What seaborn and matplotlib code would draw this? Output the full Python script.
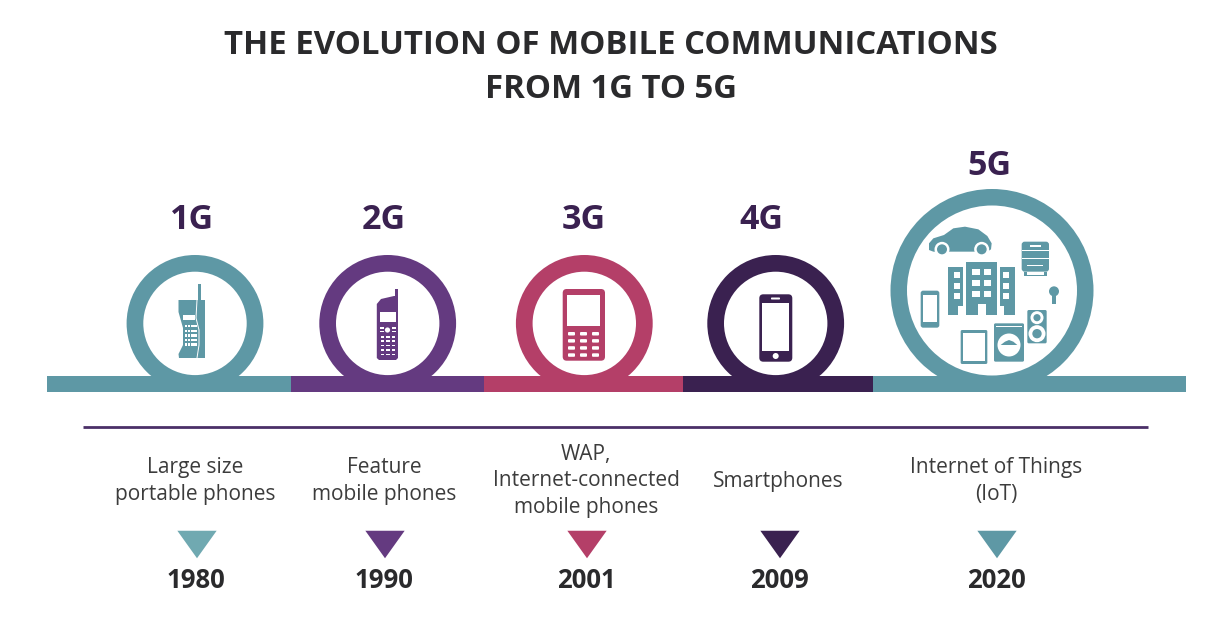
#Evolution of mobile communications infographic
import pandas as pd
import numpy as np
import matplotlib
matplotlib.use("Agg")
import matplotlib.pyplot as plt
from matplotlib.patches import Circle, Rectangle, Polygon, FancyBboxPatch
import seaborn as sns

# the values
generations = ["1G", "2G", "3G", "4G", "5G"]
technologies = ["Large size\nportable phones", "Feature\nmobile phones",
                "WAP,\nInternet-connected\nmobile phones", "Smartphones",
                "Internet of Things\n(IoT)"]
years = ["1980", "1990", "2001", "2009", "2020"]
title_lines = ["THE EVOLUTION OF MOBILE COMMUNICATIONS", "FROM 1G TO 5G"]

# styles and layout (in pixels of the picture)
colors = ["#5E98A5", "#643A80", "#B43F68", "#3A2150", "#5E98A5"]
tri_colors = ["#70A9B1", "#643A80", "#B43F68", "#3A2150", "#5E98A5"]
band_edges = [47, 291, 484, 683, 873, 1186]
ring_x = [195, 387.7, 584.3, 775.7, 992]
ring_y = [323.4, 323.4, 323.4, 323.4, 290.5]
ring_out = [68.4, 68.4, 68.4, 68.4, 101.5]
ring_in = [51.7, 51.7, 51.7, 51.7, 85]
label_x = [192, 384, 584, 761, 989]
label_y = [220, 220, 220, 220, 166]
text_x = [195, 384, 586, 778, 996]
text_y = [481, 481, 481, 481, 481]
tri_x = [197, 385, 587, 780, 997]
WHITE = "white"

sns.set_theme(style="white")
plt.rcParams['font.family'] = ['Open Sans', 'DejaVu Sans']

fig, ax = plt.subplots(figsize=(12.2, 6.36), dpi=100)
fig.subplots_adjust(0, 0, 1, 1)
ax.set_xlim(0, 1220)
ax.set_ylim(636, 0)
ax.axis("off")


def rect(x0, y0, x1, y1, c, z=5):
    ax.add_patch(Rectangle((x0, y0), x1 - x0, y1 - y0, fc=c, ec="none", zorder=z))


def rrect(x0, y0, x1, y1, c, r=2, z=5):
    ax.add_patch(FancyBboxPatch((x0 + r, y0 + r), x1 - x0 - 2 * r, y1 - y0 - 2 * r,
                                boxstyle="round,pad=%f,rounding_size=%f" % (r, r),
                                fc=c, ec="none", zorder=z))


def circ(x, y, r, c, z=5):
    ax.add_patch(Circle((x, y), r, fc=c, ec="none", zorder=z))


# rings and band
for x, y, ro, ri, c in zip(ring_x, ring_y, ring_out, ring_in, colors):
    circ(x, y, ro, c, z=2)
    circ(x, y, ri, WHITE, z=2.5)
for i, c in enumerate(colors):
    rect(band_edges[i], 375.7, band_edges[i + 1], 392.3, c, z=3)

# 1G brick phone
c = colors[0]
rect(198.3, 284, 200.6, 301, c)
ax.add_patch(Polygon([(178.5, 300), (205, 300), (205, 358), (179, 358), (178.5, 354),
                      (183, 345), (183, 328), (178.5, 312)], fc=c, ec="none", zorder=5))
ax.plot([197, 196, 199, 199, 197], [300, 318, 330, 345, 358], color=WHITE, lw=0.7, zorder=6)
rect(183, 315, 194.5, 320, WHITE, z=6)
for row in range(5):
    for col in range(4):
        rect(184.8 + col * 3.1, 325 + row * 4.6, 187.3 + col * 3.1, 327.3 + row * 4.6, WHITE, z=6)

# 2G feature phone
c = colors[1]
rect(394.8, 289, 397.8, 305, c)
ax.add_patch(Polygon([(376.8, 304), (381, 299), (394, 296), (398, 296), (398, 358),
                      (396, 360), (379, 360), (376.8, 358)], fc=c, ec="none", zorder=5))
rect(379.5, 312, 395.5, 322, WHITE, z=6)
circ(387.5, 330, 2.6, WHITE, z=6)
for sx in (380, 392):
    for sy in (327, 330.5):
        rect(sx, sy, sx + 4, sy + 1.5, WHITE, z=6)
for row in range(5):
    for col in (380.5, 386, 391.5):
        rect(col, 336 + row * 4.4, col + 3.5, 337.6 + row * 4.4, WHITE, z=6)

# 3G keypad phone
c = colors[2]
rrect(562.7, 289, 605, 360.7, c, r=4)
rect(567.3, 295, 600, 326, WHITE, z=6)
for row in range(4):
    for col in range(3):
        rrect(568 + col * 12, 332 + row * 7.1, 575 + col * 12, 335.5 + row * 7.1, WHITE, r=1, z=6)

# 4G smartphone
c = colors[3]
rrect(759.3, 294.3, 792.3, 361.7, c, r=4)
rect(762, 302.5, 789.3, 351, WHITE, z=6)
rrect(771, 297.5, 780, 299.5, WHITE, r=0.8, z=6)
circ(775.7, 356, 3, WHITE, z=6)

# 5G things, the icons are taken off the crop so pixel = 870 + x/3, 150 + y/3
c = colors[4]


def px(x):
    return 870 + x / 3


def py(y):
    return 150 + y / 3


def rz(x0, y0, x1, y1, col=c, r=None, z=5):
    if r is None:
        rect(px(x0), py(y0), px(x1), py(y1), col, z=z)
    else:
        rrect(px(x0), py(y0), px(x1), py(y1), col, r=r, z=z)


car = [(177, 300), (177, 280), (190, 265), (222, 255), (250, 235), (285, 230), (325, 238),
       (352, 258), (365, 280), (363, 298), (352, 305), (190, 305)]
ax.add_patch(Polygon([(px(a), py(b)) for a, b in car], fc=c, ec="none", zorder=5))
for wx in (216, 335):
    circ(px(wx), py(298), 7.5, WHITE, z=6)
    circ(px(wx), py(298), 5, c, z=7)
# train
rz(455, 275, 537, 365, r=3)
rz(455, 300, 537, 304, WHITE, z=6)
rz(455, 324, 537, 328, WHITE, z=6)
rz(480, 285, 512, 291, WHITE, z=6)
rz(470, 345, 520, 349, WHITE, z=6)
rz(462, 365, 530, 378)
rz(470, 365, 522, 374, WHITE, z=6)
# building
rz(235, 350, 280, 495)
rz(289, 335, 381, 495)
rz(390, 350, 435, 495)
rz(265, 468, 280, 495, WHITE, z=6)
rz(323, 462, 347, 495, WHITE, z=6)
rz(390, 468, 403, 495, WHITE, z=6)
for wy in (375, 407, 438):
    rz(252, wy - 8, 271, wy + 9, WHITE, z=6)
    rz(399, wy - 8, 418, wy + 9, WHITE, z=6)
for wy in (365, 399, 432):
    rz(307, wy - 9, 329, wy + 10, WHITE, z=6)
    rz(341, wy - 9, 363, wy + 10, WHITE, z=6)
# small phone
rz(152, 422, 208, 533, r=2.5)
rz(158, 436, 202, 516, WHITE, z=6)
# tablet
rz(272, 540, 352, 642, r=1.5)
rz(279, 548, 346, 632, WHITE, z=6)
# washing machine
rz(372, 520, 462, 635, r=1.5)
circ(px(417), py(585), 11.5, WHITE, z=6)
ax.add_patch(Polygon([(px(392), py(585)), (px(405), py(575)), (px(417), py(570)),
                      (px(430), py(575)), (px(442), py(585))],
                     fc=c, ec="none", zorder=7))
rz(378, 528, 456, 531, WHITE, z=6)
# speaker
rz(472, 480, 530, 580, r=1.5)
for sy, sr in ((503, 6.5), (551, 8.5)):
    circ(px(501), py(sy), sr, WHITE, z=6)
    circ(px(501), py(sy), sr * 0.55, c, z=7)
# bulb
circ(px(552), py(424), 5, c)
rz(546, 432, 558, 463)

# divider
ax.plot([83, 1148], [427, 427], color="#4B3068", lw=2, solid_capstyle="butt")

# triangles
df = pd.DataFrame({"generation": generations, "x": tri_x, "y": [544.5] * 5})
sns.scatterplot(data=df, x="x", y="y", hue="generation", palette=tri_colors, legend=False,
                marker=[(-1, 0.7), (1, 0.7), (0, -0.7)], s=800, linewidth=0, ax=ax)
ax.set_xlabel("")
ax.set_ylabel("")

# texts
for k, line in enumerate(title_lines):
    ax.text(611, 46 + k * 44, line, ha="center", va="center", fontsize=23.7,
            fontweight="bold", color="#2A2A2C")
for x, y, g in zip(label_x, label_y, generations):
    ax.text(x, y, g, ha="center", va="center", fontsize=24.5, fontweight="bold", color="#3A2150")
for x, y, t in zip(text_x, text_y, technologies):
    ax.text(x, y, t, ha="center", va="center", fontsize=15, color="#3C3C3C", linespacing=1.37)
for x, yr in zip(tri_x, years):
    ax.text(x - 1, 581, yr, ha="center", va="center", fontsize=18.5, fontweight="bold", color="#2A2A2C")

fig.savefig("out.png", dpi=100)
